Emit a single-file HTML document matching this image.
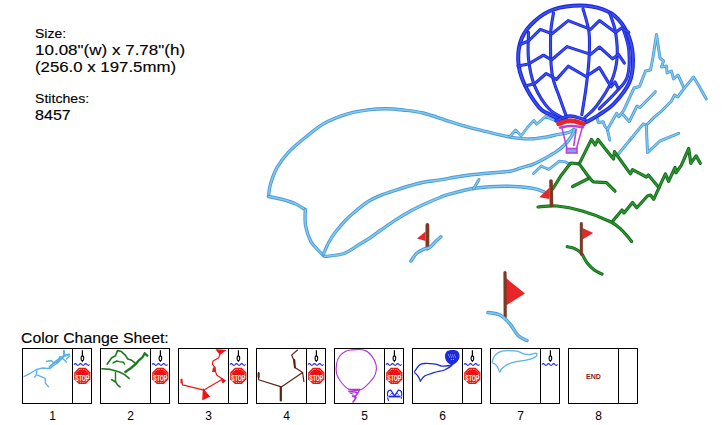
<!DOCTYPE html>
<html><head><meta charset="utf-8"><style>
html,body{margin:0;padding:0;background:#fff;}
body{width:728px;height:425px;position:relative;overflow:hidden;font-family:"Liberation Sans",sans-serif;color:#000;}
.t{position:absolute;white-space:nowrap;line-height:1;-webkit-text-stroke:0.12px #000;}
svg{position:absolute;left:0;top:0;}
</style></head><body>
<div class="t" id="s1" style="left:35px;top:28px;font-size:12.5px;transform:scaleX(1.12);transform-origin:0 0;">Size:</div>
<div class="t" id="s2" style="left:35px;top:43px;font-size:14px;transform:scaleX(1.215);transform-origin:0 0;">10.08"(w) x 7.78"(h)</div>
<div class="t" id="s3" style="left:35px;top:59.5px;font-size:14px;transform:scaleX(1.2);transform-origin:0 0;">(256.0 x 197.5mm)</div>
<div class="t" id="s4" style="left:35px;top:93px;font-size:12.5px;transform:scaleX(1.13);transform-origin:0 0;">Stitches:</div>
<div class="t" id="s5" style="left:35px;top:107.7px;font-size:14.5px;transform:scaleX(1.11);transform-origin:0 0;">8457</div>
<div class="t" id="s6" style="left:21px;top:331px;font-size:14px;transform:scaleX(1.13);transform-origin:0 0;">Color Change Sheet:</div>
<svg width="728" height="425" viewBox="0 0 728 425">
<path d="M268.5,196 C268.8,194.1 269,189.3 270.4,184.6 C271.8,179.9 274,173 277,167.7 C280,162.4 283.5,157.6 288.2,152.6 C292.9,147.6 299.2,142.3 305.2,137.5 C311.2,132.7 317.2,127.4 324,123.5 C330.8,119.6 338.7,116.6 346,114.3 C353.3,112 361.4,110.8 368,109.9 C374.6,109 379.7,108.8 385.5,108.8 C391.3,108.8 396.8,109.3 403,110 C409.2,110.7 415.3,111.1 423,113 C430.7,114.9 441.6,119 449.2,121.3 C456.8,123.6 462.1,125.3 468.5,127.1 C474.9,128.9 481.3,130.3 487.7,131.9 C494.1,133.5 501.3,135.4 507,136.5 C512.7,137.6 517.4,138.2 521.8,138.6 C526.2,139 529.6,139 533.5,138.8 C537.4,138.6 541.4,137.9 545.3,137.2 C549.2,136.5 553.1,135.5 557,134.7 C560.9,133.9 566,133.3 568.8,132.4 C571.6,131.5 573.1,130 574,129.5" stroke="#4a9bd4" stroke-width="3.4" fill="none" stroke-linejoin="round" stroke-linecap="round"/>
<path d="M268.5,196 C268.8,194.1 269,189.3 270.4,184.6 C271.8,179.9 274,173 277,167.7 C280,162.4 283.5,157.6 288.2,152.6 C292.9,147.6 299.2,142.3 305.2,137.5 C311.2,132.7 317.2,127.4 324,123.5 C330.8,119.6 338.7,116.6 346,114.3 C353.3,112 361.4,110.8 368,109.9 C374.6,109 379.7,108.8 385.5,108.8 C391.3,108.8 396.8,109.3 403,110 C409.2,110.7 415.3,111.1 423,113 C430.7,114.9 441.6,119 449.2,121.3 C456.8,123.6 462.1,125.3 468.5,127.1 C474.9,128.9 481.3,130.3 487.7,131.9 C494.1,133.5 501.3,135.4 507,136.5 C512.7,137.6 517.4,138.2 521.8,138.6 C526.2,139 529.6,139 533.5,138.8 C537.4,138.6 541.4,137.9 545.3,137.2 C549.2,136.5 553.1,135.5 557,134.7 C560.9,133.9 566,133.3 568.8,132.4 C571.6,131.5 573.1,130 574,129.5" stroke="#86c9ee" stroke-width="1.53" fill="none" stroke-linejoin="round" stroke-linecap="round"/>
<path d="M268.5,196.5 C270.9,197 278.1,198.3 282.6,199.5 C287.1,200.7 291.6,202 295.3,203.7 C299,205.4 303.4,208.5 305,209.5" stroke="#4a9bd4" stroke-width="3.4" fill="none" stroke-linejoin="round" stroke-linecap="round"/>
<path d="M268.5,196.5 C270.9,197 278.1,198.3 282.6,199.5 C287.1,200.7 291.6,202 295.3,203.7 C299,205.4 303.4,208.5 305,209.5" stroke="#86c9ee" stroke-width="1.53" fill="none" stroke-linejoin="round" stroke-linecap="round"/>
<path d="M305.3,209.5 C305.3,212.1 304.6,220.1 305.5,225.3 C306.4,230.6 308.7,237.1 310.6,241 C312.5,244.9 314.9,246.6 317,249 C319.1,251.4 322.4,254.4 323.5,255.5" stroke="#4a9bd4" stroke-width="3.4" fill="none" stroke-linejoin="round" stroke-linecap="round"/>
<path d="M305.3,209.5 C305.3,212.1 304.6,220.1 305.5,225.3 C306.4,230.6 308.7,237.1 310.6,241 C312.5,244.9 314.9,246.6 317,249 C319.1,251.4 322.4,254.4 323.5,255.5" stroke="#86c9ee" stroke-width="1.53" fill="none" stroke-linejoin="round" stroke-linecap="round"/>
<path d="M323.5,254 C324.4,252 327,245.6 329,242 C331,238.4 332.5,236 335.3,232.3 C338.1,228.6 342.8,223.3 345.9,220 C349,216.7 350.3,215.6 354,212.5 C357.7,209.4 363.5,204.5 368.2,201.5 C372.9,198.5 377.7,196.6 382.4,194.7 C387.1,192.8 391.8,191.3 396.5,189.8 C401.2,188.3 405.9,186.8 410.6,185.5 C415.3,184.2 419.8,182.9 424.7,182 C429.6,181.1 433.7,180.9 440,179.9 C446.3,178.9 454.1,177.2 462.4,176 C470.7,174.8 482.1,173.8 490,173 C497.9,172.2 504.7,172.1 510,171.2 C515.3,170.3 517.9,168.8 521.8,167.6 C525.7,166.4 529.6,165.7 533.5,164.1 C537.4,162.5 541.4,160.3 545.3,158.2 C549.2,156 553.5,153.7 557,151.2 C560.5,148.7 563.9,145.8 566.5,143 C569.1,140.2 571.1,136.9 572.4,134.7 C573.6,132.4 573.7,130.4 574,129.5" stroke="#4a9bd4" stroke-width="3.4" fill="none" stroke-linejoin="round" stroke-linecap="round"/>
<path d="M323.5,254 C324.4,252 327,245.6 329,242 C331,238.4 332.5,236 335.3,232.3 C338.1,228.6 342.8,223.3 345.9,220 C349,216.7 350.3,215.6 354,212.5 C357.7,209.4 363.5,204.5 368.2,201.5 C372.9,198.5 377.7,196.6 382.4,194.7 C387.1,192.8 391.8,191.3 396.5,189.8 C401.2,188.3 405.9,186.8 410.6,185.5 C415.3,184.2 419.8,182.9 424.7,182 C429.6,181.1 433.7,180.9 440,179.9 C446.3,178.9 454.1,177.2 462.4,176 C470.7,174.8 482.1,173.8 490,173 C497.9,172.2 504.7,172.1 510,171.2 C515.3,170.3 517.9,168.8 521.8,167.6 C525.7,166.4 529.6,165.7 533.5,164.1 C537.4,162.5 541.4,160.3 545.3,158.2 C549.2,156 553.5,153.7 557,151.2 C560.5,148.7 563.9,145.8 566.5,143 C569.1,140.2 571.1,136.9 572.4,134.7 C573.6,132.4 573.7,130.4 574,129.5" stroke="#86c9ee" stroke-width="1.53" fill="none" stroke-linejoin="round" stroke-linecap="round"/>
<path d="M324.7,256.5 C327.9,256 338.1,255.6 344,253.5 C349.9,251.4 355.6,246.7 360,244 C364.4,241.3 367.1,239.8 370.6,237.5 C374.1,235.2 376.7,233 381,230 C385.3,227 391.6,222.6 396.5,219.4 C401.4,216.2 405.9,213.6 410.6,211 C415.3,208.4 419.8,206.2 424.7,204 C429.6,201.8 436,199.1 440,197.5 C444,195.9 442.7,195.9 448.7,194.3 C454.7,192.7 466.9,189.3 476,188 C485.1,186.7 494.4,186.2 503.6,186.2 C512.8,186.2 524.1,187 531,188 C537.9,189 542,191 544.8,192.2 C547.6,193.4 547.5,194.5 548,195" stroke="#4a9bd4" stroke-width="3.4" fill="none" stroke-linejoin="round" stroke-linecap="round"/>
<path d="M324.7,256.5 C327.9,256 338.1,255.6 344,253.5 C349.9,251.4 355.6,246.7 360,244 C364.4,241.3 367.1,239.8 370.6,237.5 C374.1,235.2 376.7,233 381,230 C385.3,227 391.6,222.6 396.5,219.4 C401.4,216.2 405.9,213.6 410.6,211 C415.3,208.4 419.8,206.2 424.7,204 C429.6,201.8 436,199.1 440,197.5 C444,195.9 442.7,195.9 448.7,194.3 C454.7,192.7 466.9,189.3 476,188 C485.1,186.7 494.4,186.2 503.6,186.2 C512.8,186.2 524.1,187 531,188 C537.9,189 542,191 544.8,192.2 C547.6,193.4 547.5,194.5 548,195" stroke="#86c9ee" stroke-width="1.53" fill="none" stroke-linejoin="round" stroke-linecap="round"/>
<path d="M479.0,179.5 L473.4,189.0" stroke="#4a9bd4" stroke-width="3" fill="none" stroke-linejoin="round" stroke-linecap="round"/>
<path d="M479.0,179.5 L473.4,189.0" stroke="#86c9ee" stroke-width="1.35" fill="none" stroke-linejoin="round" stroke-linecap="round"/>
<path d="M510.0,136.5 L515.6,130.0 L519.4,134.0 L521.0,136.0 L527.0,128.0 L533.8,120.4 L536.7,124.2 L545.4,116.5 L551.0,119.0 L556.0,121.0" stroke="#4a9bd4" stroke-width="2.8" fill="none" stroke-linejoin="round" stroke-linecap="round"/>
<path d="M510.0,136.5 L515.6,130.0 L519.4,134.0 L521.0,136.0 L527.0,128.0 L533.8,120.4 L536.7,124.2 L545.4,116.5 L551.0,119.0 L556.0,121.0" stroke="#86c9ee" stroke-width="1.26" fill="none" stroke-linejoin="round" stroke-linecap="round"/>
<path d="M533.5,173.5 L541.2,165.9 L544.0,167.5 L548.8,169.4 L559.4,161.2 L565.3,161.8 L568.2,163.5" stroke="#4a9bd4" stroke-width="2.8" fill="none" stroke-linejoin="round" stroke-linecap="round"/>
<path d="M533.5,173.5 L541.2,165.9 L544.0,167.5 L548.8,169.4 L559.4,161.2 L565.3,161.8 L568.2,163.5" stroke="#86c9ee" stroke-width="1.26" fill="none" stroke-linejoin="round" stroke-linecap="round"/>
<path d="M596.8,116.7 L598.2,122.4 L603.2,121.7 L604.6,125.9 L607.4,129.4 L609.7,140.0" stroke="#4a9bd4" stroke-width="3" fill="none" stroke-linejoin="round" stroke-linecap="round"/>
<path d="M596.8,116.7 L598.2,122.4 L603.2,121.7 L604.6,125.9 L607.4,129.4 L609.7,140.0" stroke="#86c9ee" stroke-width="1.35" fill="none" stroke-linejoin="round" stroke-linecap="round"/>
<path d="M607.4,129.4 L616.6,113.2 L618.7,116.7 L623.7,110.4 L634.0,88.0 L639.5,86.5 L642.0,80.0 L645.5,71.0 L650.5,70.0 L653.0,57.0 L656.5,34.5 L660.0,58.0 L663.5,61.0 L661.5,67.0 L666.5,66.0 L667.0,73.0 L671.5,71.0 L673.5,79.0 L678.0,75.0 L684.0,88.0" stroke="#4a9bd4" stroke-width="3" fill="none" stroke-linejoin="round" stroke-linecap="round"/>
<path d="M607.4,129.4 L616.6,113.2 L618.7,116.7 L623.7,110.4 L634.0,88.0 L639.5,86.5 L642.0,80.0 L645.5,71.0 L650.5,70.0 L653.0,57.0 L656.5,34.5 L660.0,58.0 L663.5,61.0 L661.5,67.0 L666.5,66.0 L667.0,73.0 L671.5,71.0 L673.5,79.0 L678.0,75.0 L684.0,88.0" stroke="#86c9ee" stroke-width="1.35" fill="none" stroke-linejoin="round" stroke-linecap="round"/>
<path d="M623.0,114.6 L629.3,121.7 L637.0,106.0 L640.0,107.5 L655.4,91.7" stroke="#4a9bd4" stroke-width="3" fill="none" stroke-linejoin="round" stroke-linecap="round"/>
<path d="M623.0,114.6 L629.3,121.7 L637.0,106.0 L640.0,107.5 L655.4,91.7" stroke="#86c9ee" stroke-width="1.35" fill="none" stroke-linejoin="round" stroke-linecap="round"/>
<path d="M630.0,140.0 L643.4,123.8 L646.3,125.2 L654.0,117.4 L661.8,110.8 L671.3,101.3 L674.5,95.0 L677.7,97.0 L684.0,88.6 L693.6,77.0 L699.0,86.0 L706.3,99.0" stroke="#4a9bd4" stroke-width="3" fill="none" stroke-linejoin="round" stroke-linecap="round"/>
<path d="M630.0,140.0 L643.4,123.8 L646.3,125.2 L654.0,117.4 L661.8,110.8 L671.3,101.3 L674.5,95.0 L677.7,97.0 L684.0,88.6 L693.6,77.0 L699.0,86.0 L706.3,99.0" stroke="#86c9ee" stroke-width="1.35" fill="none" stroke-linejoin="round" stroke-linecap="round"/>
<path d="M617.5,155.0 L630.0,140.0" stroke="#4a9bd4" stroke-width="3" fill="none" stroke-linejoin="round" stroke-linecap="round"/>
<path d="M617.5,155.0 L630.0,140.0" stroke="#86c9ee" stroke-width="1.35" fill="none" stroke-linejoin="round" stroke-linecap="round"/>
<path d="M646.3,125.2 L647.5,152.6 L660.0,141.0 L678.7,133.4" stroke="#4a9bd4" stroke-width="3" fill="none" stroke-linejoin="round" stroke-linecap="round"/>
<path d="M646.3,125.2 L647.5,152.6 L660.0,141.0 L678.7,133.4" stroke="#86c9ee" stroke-width="1.35" fill="none" stroke-linejoin="round" stroke-linecap="round"/>
<path d="M561.5,120.4 C559.4,119.3 552.8,116.2 549,114 C545.2,111.8 543.1,112.5 538.9,107.3 C534.7,102.1 527.2,90.6 523.8,82.8 C520.3,75 518.5,67.7 518.2,60.2 C517.9,52.7 519.2,44.2 522,37.6 C524.8,31 529.8,25.4 535.1,20.7 C540.4,16 546.4,11.9 553.9,9.4 C561.4,6.9 572.1,5.6 580.3,5.6 C588.5,5.6 596.6,7.2 602.9,9.4 C609.2,11.6 613.5,14.1 617.9,18.8 C622.3,23.5 626.7,30.7 629.2,37.6 C631.7,44.5 633,52.7 633,60.2 C633,67.7 632.4,75.6 629.2,82.8 C626.1,90 619.1,98.2 614.1,103.5 C609.1,108.8 603.7,111.7 599,114.8 C594.3,117.9 588.1,121 585.9,122.3" stroke="#1c26d6" stroke-width="4" fill="none" stroke-linejoin="round" stroke-linecap="round"/>
<path d="M561.5,120.4 C559.4,119.3 552.8,116.2 549,114 C545.2,111.8 543.1,112.5 538.9,107.3 C534.7,102.1 527.2,90.6 523.8,82.8 C520.3,75 518.5,67.7 518.2,60.2 C517.9,52.7 519.2,44.2 522,37.6 C524.8,31 529.8,25.4 535.1,20.7 C540.4,16 546.4,11.9 553.9,9.4 C561.4,6.9 572.1,5.6 580.3,5.6 C588.5,5.6 596.6,7.2 602.9,9.4 C609.2,11.6 613.5,14.1 617.9,18.8 C622.3,23.5 626.7,30.7 629.2,37.6 C631.7,44.5 633,52.7 633,60.2 C633,67.7 632.4,75.6 629.2,82.8 C626.1,90 619.1,98.2 614.1,103.5 C609.1,108.8 603.7,111.7 599,114.8 C594.3,117.9 588.1,121 585.9,122.3" stroke="#3a50f4" stroke-width="1.80" fill="none" stroke-linejoin="round" stroke-linecap="round"/>
<path d="M528.5,32.4 C528.5,36.8 527.5,50 528.5,58.8 C529.5,67.6 531,77 534.4,85.3 C537.8,93.6 543.9,103.2 549,108.8 C554.1,114.4 562.6,117.3 565.3,119" stroke="#1c26d6" stroke-width="3.1" fill="none" stroke-linejoin="round" stroke-linecap="round"/>
<path d="M528.5,32.4 C528.5,36.8 527.5,50 528.5,58.8 C529.5,67.6 531,77 534.4,85.3 C537.8,93.6 543.9,103.2 549,108.8 C554.1,114.4 562.6,117.3 565.3,119" stroke="#3a50f4" stroke-width="1.40" fill="none" stroke-linejoin="round" stroke-linecap="round"/>
<path d="M553.5,13 C553,16.7 550.9,24.9 550.6,35 C550.4,45.1 550.5,63.2 552,73.5 C553.5,83.8 556.9,89.7 559.4,97 C561.9,104.3 565.6,114.2 566.8,117.6" stroke="#1c26d6" stroke-width="3.1" fill="none" stroke-linejoin="round" stroke-linecap="round"/>
<path d="M553.5,13 C553,16.7 550.9,24.9 550.6,35 C550.4,45.1 550.5,63.2 552,73.5 C553.5,83.8 556.9,89.7 559.4,97 C561.9,104.3 565.6,114.2 566.8,117.6" stroke="#3a50f4" stroke-width="1.40" fill="none" stroke-linejoin="round" stroke-linecap="round"/>
<path d="M583,8.8 C584,12.7 588,24.1 589,32.4 C590,40.7 589.5,49.5 589,58.8 C588.5,68.1 587.2,78.7 586,88 C584.8,97.3 582.5,110.2 581.8,114.7" stroke="#1c26d6" stroke-width="3.1" fill="none" stroke-linejoin="round" stroke-linecap="round"/>
<path d="M583,8.8 C584,12.7 588,24.1 589,32.4 C590,40.7 589.5,49.5 589,58.8 C588.5,68.1 587.2,78.7 586,88 C584.8,97.3 582.5,110.2 581.8,114.7" stroke="#3a50f4" stroke-width="1.40" fill="none" stroke-linejoin="round" stroke-linecap="round"/>
<path d="M609.7,13.2 C610.7,16.4 614.4,24.8 615.6,32.4 C616.8,40 617.8,50.5 617,58.8 C616.2,67.1 614.4,74.5 611,82.4 C607.6,90.3 600.9,100.1 596.5,106 C592.1,111.9 586.7,115.7 584.7,117.6" stroke="#1c26d6" stroke-width="3.1" fill="none" stroke-linejoin="round" stroke-linecap="round"/>
<path d="M609.7,13.2 C610.7,16.4 614.4,24.8 615.6,32.4 C616.8,40 617.8,50.5 617,58.8 C616.2,67.1 614.4,74.5 611,82.4 C607.6,90.3 600.9,100.1 596.5,106 C592.1,111.9 586.7,115.7 584.7,117.6" stroke="#3a50f4" stroke-width="1.40" fill="none" stroke-linejoin="round" stroke-linecap="round"/>
<path d="M623,28 C624,31.7 628.1,41.9 628.8,50 C629.5,58.1 629.4,69.7 627.4,76.5 C625.4,83.3 621.7,85.6 617,91 C612.3,96.4 602.3,105.8 599.4,108.8" stroke="#1c26d6" stroke-width="3.1" fill="none" stroke-linejoin="round" stroke-linecap="round"/>
<path d="M623,28 C624,31.7 628.1,41.9 628.8,50 C629.5,58.1 629.4,69.7 627.4,76.5 C625.4,83.3 621.7,85.6 617,91 C612.3,96.4 602.3,105.8 599.4,108.8" stroke="#3a50f4" stroke-width="1.40" fill="none" stroke-linejoin="round" stroke-linecap="round"/>
<path d="M520.0,44.5 L528.5,41.0 L540.3,29.4 L552.0,33.8 L568.2,20.6 L590.6,29.4 L599.4,20.6 L615.6,32.4 L621.5,28.0 L628.8,32.4" stroke="#1c26d6" stroke-width="3.1" fill="none" stroke-linejoin="round" stroke-linecap="round"/>
<path d="M520.0,44.5 L528.5,41.0 L540.3,29.4 L552.0,33.8 L568.2,20.6 L590.6,29.4 L599.4,20.6 L615.6,32.4 L621.5,28.0 L628.8,32.4" stroke="#3a50f4" stroke-width="1.40" fill="none" stroke-linejoin="round" stroke-linecap="round"/>
<path d="M518.0,66.0 L528.5,64.0 L543.5,55.2 L551.5,60.0 L567.0,46.6 L590.6,54.4 L599.4,47.0 L612.6,58.8 L618.5,54.4 L624.4,63.2" stroke="#1c26d6" stroke-width="3.1" fill="none" stroke-linejoin="round" stroke-linecap="round"/>
<path d="M518.0,66.0 L528.5,64.0 L543.5,55.2 L551.5,60.0 L567.0,46.6 L590.6,54.4 L599.4,47.0 L612.6,58.8 L618.5,54.4 L624.4,63.2" stroke="#3a50f4" stroke-width="1.40" fill="none" stroke-linejoin="round" stroke-linecap="round"/>
<path d="M525.0,86.0 L534.4,83.8 L546.2,73.5 L556.5,79.4 L568.2,66.2 L586.0,76.5 L599.4,67.6 L611.0,86.8 L615.0,82.0 L618.0,88.0" stroke="#1c26d6" stroke-width="3.1" fill="none" stroke-linejoin="round" stroke-linecap="round"/>
<path d="M525.0,86.0 L534.4,83.8 L546.2,73.5 L556.5,79.4 L568.2,66.2 L586.0,76.5 L599.4,67.6 L611.0,86.8 L615.0,82.0 L618.0,88.0" stroke="#3a50f4" stroke-width="1.40" fill="none" stroke-linejoin="round" stroke-linecap="round"/>
<path d="M556,120.8 C558.3,120 565.2,116.2 570,116 C574.8,115.8 582.5,119.2 585,119.8" stroke="#1c26d6" stroke-width="3.5" fill="none" stroke-linejoin="round" stroke-linecap="round"/>
<path d="M556,120.8 C558.3,120 565.2,116.2 570,116 C574.8,115.8 582.5,119.2 585,119.8" stroke="#3a50f4" stroke-width="1.57" fill="none" stroke-linejoin="round" stroke-linecap="round"/>
<path d="M558.5,123.8 C560.4,123.3 565.8,120.6 570,120.6 C574.2,120.6 581.2,123.3 583.5,123.8" stroke="#e8262a" stroke-width="4.6" fill="none" stroke-linejoin="round" stroke-linecap="round"/>
<path d="M560,127.6 C561.8,127.3 567.2,126.1 571,126 C574.8,125.9 581,127 583,127.2" stroke="#c03ee0" stroke-width="2.6" fill="none" stroke-linejoin="round" stroke-linecap="round"/>
<path d="M562.0,128.5 L567.0,148.5" stroke="#c03ee0" stroke-width="1.5" fill="none" stroke-linejoin="round" stroke-linecap="round"/>
<path d="M582.0,128.5 L576.5,148.5" stroke="#c03ee0" stroke-width="1.5" fill="none" stroke-linejoin="round" stroke-linecap="round"/>
<path d="M576.2,129.4 L573.8,145.4" stroke="#c03ee0" stroke-width="1.6" fill="none" stroke-linejoin="round" stroke-linecap="round"/>
<rect x="566.5" y="148.5" width="10.5" height="4.5" fill="#62b4e6" stroke="#c03ee0" stroke-width="1.6"/>
<path d="M552.7,189.0 L561.3,175.2 L570.7,163.0 L579.2,163.9 L583.0,156.4 L591.4,139.4 L595.2,145.0 L598.0,139.4 L605.0,148.5 L613.5,159.0 L614.5,151.7 L630.4,173.9 L632.5,169.7 L646.3,177.0 L648.4,175.0 L659.0,187.7" stroke="#11661a" stroke-width="3.2" fill="none" stroke-linejoin="round" stroke-linecap="round"/>
<path d="M552.7,189.0 L561.3,175.2 L570.7,163.0 L579.2,163.9 L583.0,156.4 L591.4,139.4 L595.2,145.0 L598.0,139.4 L605.0,148.5 L613.5,159.0 L614.5,151.7 L630.4,173.9 L632.5,169.7 L646.3,177.0 L648.4,175.0 L659.0,187.7" stroke="#2b9a2e" stroke-width="1.44" fill="none" stroke-linejoin="round" stroke-linecap="round"/>
<path d="M612.4,221.6 L622.0,210.0 L624.0,213.0 L632.5,202.5 L636.8,207.8 L647.4,196.0 L650.5,195.0 L653.7,199.3 L659.0,187.7 L665.4,173.9 L668.6,181.3 L675.0,167.5 L676.0,172.8 L681.3,165.4 L688.7,148.5 L690.8,163.3 L696.1,155.9 L700.3,163.3" stroke="#11661a" stroke-width="3.2" fill="none" stroke-linejoin="round" stroke-linecap="round"/>
<path d="M612.4,221.6 L622.0,210.0 L624.0,213.0 L632.5,202.5 L636.8,207.8 L647.4,196.0 L650.5,195.0 L653.7,199.3 L659.0,187.7 L665.4,173.9 L668.6,181.3 L675.0,167.5 L676.0,172.8 L681.3,165.4 L688.7,148.5 L690.8,163.3 L696.1,155.9 L700.3,163.3" stroke="#2b9a2e" stroke-width="1.44" fill="none" stroke-linejoin="round" stroke-linecap="round"/>
<path d="M579.2,163.9 L589.5,178.0 L572.6,186.5" stroke="#11661a" stroke-width="3.2" fill="none" stroke-linejoin="round" stroke-linecap="round"/>
<path d="M579.2,163.9 L589.5,178.0 L572.6,186.5" stroke="#2b9a2e" stroke-width="1.44" fill="none" stroke-linejoin="round" stroke-linecap="round"/>
<path d="M589.5,178.0 L593.3,181.8 L606.5,182.7 L615.0,191.2" stroke="#11661a" stroke-width="3.2" fill="none" stroke-linejoin="round" stroke-linecap="round"/>
<path d="M589.5,178.0 L593.3,181.8 L606.5,182.7 L615.0,191.2" stroke="#2b9a2e" stroke-width="1.44" fill="none" stroke-linejoin="round" stroke-linecap="round"/>
<path d="M538,207 C541.2,206.8 549.6,205.3 557,206 C564.4,206.7 573.4,208.4 582.3,211 C591.2,213.6 603.9,218.5 610.5,221.7 C617.1,224.9 618.3,226.9 621.8,230.2 C625.3,233.5 630.1,239.6 631.7,241.5" stroke="#11661a" stroke-width="3.2" fill="none" stroke-linejoin="round" stroke-linecap="round"/>
<path d="M538,207 C541.2,206.8 549.6,205.3 557,206 C564.4,206.7 573.4,208.4 582.3,211 C591.2,213.6 603.9,218.5 610.5,221.7 C617.1,224.9 618.3,226.9 621.8,230.2 C625.3,233.5 630.1,239.6 631.7,241.5" stroke="#2b9a2e" stroke-width="1.44" fill="none" stroke-linejoin="round" stroke-linecap="round"/>
<path d="M567.3,246.7 C568.5,247 572.4,247.5 574.8,248.6 C577.1,249.7 579.4,251 581.4,253.3 C583.4,255.7 584.8,259.9 587,262.7 C589.2,265.5 592.1,268.4 594.6,270.3 C597.1,272.2 600.8,273.4 602,274" stroke="#11661a" stroke-width="3.2" fill="none" stroke-linejoin="round" stroke-linecap="round"/>
<path d="M567.3,246.7 C568.5,247 572.4,247.5 574.8,248.6 C577.1,249.7 579.4,251 581.4,253.3 C583.4,255.7 584.8,259.9 587,262.7 C589.2,265.5 592.1,268.4 594.6,270.3 C597.1,272.2 600.8,273.4 602,274" stroke="#2b9a2e" stroke-width="1.44" fill="none" stroke-linejoin="round" stroke-linecap="round"/>
<path d="M539.3,197.3 L549.5,187.4 L549.5,199.0Z" fill="#e8262a"/>
<path d="M551.0,181.0 L551.5,205.5" stroke="#7b3a24" stroke-width="3.6" fill="none" stroke-linejoin="round" stroke-linecap="round"/>
<path d="M582.5,228.0 L593.2,233.0 L582.5,239.4Z" fill="#e8262a"/>
<path d="M581.3,223.5 L581.4,254.5" stroke="#7b3a24" stroke-width="3" fill="none" stroke-linejoin="round" stroke-linecap="round"/>
<path d="M417.0,238.5 L425.5,231.5 L425.5,241.0Z" fill="#e8262a"/>
<path d="M427.4,225.0 L427.4,248.5" stroke="#7b3a24" stroke-width="3.8" fill="none" stroke-linejoin="round" stroke-linecap="round"/>
<path d="M506.0,278.0 L525.0,293.5 L506.0,305.5Z" fill="#e8262a"/>
<path d="M505.0,272.5 L505.2,317.0" stroke="#7b3a24" stroke-width="3.2" fill="none" stroke-linejoin="round" stroke-linecap="round"/>
<path d="M410.9,261 C411.9,259.7 414.6,255.3 416.8,253.3 C419,251.3 421.7,250.2 423.8,249.2 C425.9,248.2 427.7,248.8 429.7,247.5 C431.7,246.2 433.7,243.3 435.6,241.5 C437.5,239.7 440,237.6 440.9,236.8" stroke="#4a9bd4" stroke-width="3.5" fill="none" stroke-linejoin="round" stroke-linecap="round"/>
<path d="M410.9,261 C411.9,259.7 414.6,255.3 416.8,253.3 C419,251.3 421.7,250.2 423.8,249.2 C425.9,248.2 427.7,248.8 429.7,247.5 C431.7,246.2 433.7,243.3 435.6,241.5 C437.5,239.7 440,237.6 440.9,236.8" stroke="#86c9ee" stroke-width="1.57" fill="none" stroke-linejoin="round" stroke-linecap="round"/>
<path d="M488,312.5 C490,312.9 496.3,313.1 500,315 C503.7,316.9 507,320.6 510,324 C513,327.4 515.2,332.8 518,335.5 C520.8,338.2 525.5,339.7 527,340.5" stroke="#4a9bd4" stroke-width="3.5" fill="none" stroke-linejoin="round" stroke-linecap="round"/>
<path d="M488,312.5 C490,312.9 496.3,313.1 500,315 C503.7,316.9 507,320.6 510,324 C513,327.4 515.2,332.8 518,335.5 C520.8,338.2 525.5,339.7 527,340.5" stroke="#86c9ee" stroke-width="1.57" fill="none" stroke-linejoin="round" stroke-linecap="round"/>
<rect x="22.5" y="348.5" width="69" height="55" fill="none" stroke="#000" stroke-width="1"/>
<path d="M72.5,348.5 V403.5" stroke="#000" stroke-width="1"/>
<rect x="100.5" y="348.5" width="69" height="55" fill="none" stroke="#000" stroke-width="1"/>
<path d="M150.5,348.5 V403.5" stroke="#000" stroke-width="1"/>
<rect x="178.5" y="348.5" width="69" height="55" fill="none" stroke="#000" stroke-width="1"/>
<path d="M228.5,348.5 V403.5" stroke="#000" stroke-width="1"/>
<rect x="256.5" y="348.5" width="69" height="55" fill="none" stroke="#000" stroke-width="1"/>
<path d="M306.5,348.5 V403.5" stroke="#000" stroke-width="1"/>
<rect x="334.5" y="348.5" width="69" height="55" fill="none" stroke="#000" stroke-width="1"/>
<path d="M384.5,348.5 V403.5" stroke="#000" stroke-width="1"/>
<rect x="412.5" y="348.5" width="69" height="55" fill="none" stroke="#000" stroke-width="1"/>
<path d="M462.5,348.5 V403.5" stroke="#000" stroke-width="1"/>
<rect x="490.5" y="348.5" width="69" height="55" fill="none" stroke="#000" stroke-width="1"/>
<path d="M540.5,348.5 V403.5" stroke="#000" stroke-width="1"/>
<rect x="568.5" y="348.5" width="69" height="55" fill="none" stroke="#000" stroke-width="1"/>
<path d="M618.5,348.5 V403.5" stroke="#000" stroke-width="1"/>
<path d="M24.0,376.5 L27.8,374.6 L33.7,371.3 L36.9,369.4 L42.7,368.0 L49.8,368.7 L53.0,366.0 L58.3,362.2 L62.2,358.4 L64.7,354.5 L64.0,350.6" stroke="#5ab2e6" stroke-width="1.3" fill="none" stroke-linejoin="round" stroke-linecap="round"/>
<path d="M36.9,370.7 L36.2,375.2 L34.5,377.0" stroke="#5ab2e6" stroke-width="1.3" fill="none" stroke-linejoin="round" stroke-linecap="round"/>
<path d="M37.5,375.2 L45.3,378.4 L45.3,383.0 L48.6,386.9" stroke="#5ab2e6" stroke-width="1.3" fill="none" stroke-linejoin="round" stroke-linecap="round"/>
<path d="M49.5,367.0 L54.0,363.0 L58.0,360.0 L64.0,356.0 L69.0,354.5" stroke="#5ab2e6" stroke-width="2.2" fill="none" stroke-linejoin="round" stroke-linecap="round"/>
<path d="M63.8,350.5 L63.8,356.0" stroke="#5ab2e6" stroke-width="1.6" fill="none" stroke-linejoin="round" stroke-linecap="round"/>
<path d="M46.5,361.5 L51.0,360.5 L53.5,362.5" stroke="#5ab2e6" stroke-width="1.6" fill="none" stroke-linejoin="round" stroke-linecap="round"/>
<path d="M61.0,357.0 L66.5,362.0" stroke="#5ab2e6" stroke-width="1.6" fill="none" stroke-linejoin="round" stroke-linecap="round"/>
<path d="M57.0,363.0 L60.0,357.0" stroke="#5ab2e6" stroke-width="2" fill="none" stroke-linejoin="round" stroke-linecap="round"/>
<path d="M69.5,356.0 L66.5,359.0" stroke="#5ab2e6" stroke-width="1.5" fill="none" stroke-linejoin="round" stroke-linecap="round"/>
<path d="M101.9,368.7 L110.4,369.4 L119.4,372.0 L124.6,374.6 L129.1,378.4" stroke="#1a7a1a" stroke-width="1.6" fill="none" stroke-linejoin="round" stroke-linecap="round"/>
<path d="M107.1,364.2 L111.7,357.7 L115.5,355.8 L117.5,350.6 L120.7,351.2 L125.3,355.1 L127.8,359.0 L131.7,360.3 L135.0,362.9" stroke="#1a7a1a" stroke-width="1.6" fill="none" stroke-linejoin="round" stroke-linecap="round"/>
<path d="M113.0,362.9 L116.8,361.0 L119.4,361.6 L123.3,362.2 L124.6,364.2" stroke="#1a7a1a" stroke-width="1.4" fill="none" stroke-linejoin="round" stroke-linecap="round"/>
<path d="M125.3,372.0 L131.0,368.0 L135.6,364.2 L138.9,360.3 L142.7,357.0 L144.7,353.2 L147.3,355.8" stroke="#1a7a1a" stroke-width="2.3" fill="none" stroke-linejoin="round" stroke-linecap="round"/>
<path d="M111.7,379.7 L115.5,381.7 L117.5,384.9 L120.0,386.9" stroke="#1a7a1a" stroke-width="1.6" fill="none" stroke-linejoin="round" stroke-linecap="round"/>
<path d="M115.5,372.6 L115.5,382.3" stroke="#1a7a1a" stroke-width="1.4" fill="none" stroke-linejoin="round" stroke-linecap="round"/>
<path d="M220.1,353.2 L218.8,357.7 L213.0,361.0 L212.3,364.2 L214.9,367.4 L215.6,372.0 L216.9,375.2 L222.7,379.0 L203.9,390.1 L182.5,384.9 L181.5,380.0" stroke="#f01414" stroke-width="1.15" fill="none" stroke-linejoin="round" stroke-linecap="round"/>
<path d="M217,350 L224.5,350.5 L220,354Z" fill="#f01414" stroke="#f01414" stroke-width="1.5"/>
<path d="M213,367.5 L215.5,367 L215.5,372 L212,372Z" fill="#f01414"/>
<path d="M221,378.5 L225.5,380.5 L223,383Z" fill="#f01414" stroke="#f01414" stroke-width="1"/>
<path d="M203.5,390 L203,399 L209,396.5Z" fill="#f01414" stroke="#f01414" stroke-width="1.5"/>
<rect x="180.5" y="378.8" width="2" height="4.5" fill="#f01414"/>
<path d="M297.5,350.0 L291.6,355.1 L293.6,359.7 L294.9,367.4 L302.6,372.6 L281.3,386.9 L258.6,379.7 L258.6,373.3" stroke="#5e200e" stroke-width="1.15" fill="none" stroke-linejoin="round" stroke-linecap="round"/>
<path d="M302.6,372.6 L303.9,381.7" stroke="#5e200e" stroke-width="1.15" fill="none" stroke-linejoin="round" stroke-linecap="round"/>
<path d="M294.3,360.0 L294.9,367.4" stroke="#5e200e" stroke-width="2" fill="none" stroke-linejoin="round" stroke-linecap="round"/>
<path d="M258.6,373.0 L258.6,377.0" stroke="#5e200e" stroke-width="2" fill="none" stroke-linejoin="round" stroke-linecap="round"/>
<path d="M280.8,387.0 L280.8,400.5" stroke="#5e200e" stroke-width="2.2" fill="none" stroke-linejoin="round" stroke-linecap="round"/>
<path d="M350.8,350 C353.8,349.8 360.3,349 363.8,350 C367.3,351 369.6,353.3 371.6,355.8 C373.7,358.3 375.5,361.8 376.1,364.8 C376.8,367.8 376.5,371.1 375.5,373.9 C374.5,376.7 372.7,379.1 370.3,381.7 C367.9,384.3 364.7,388.2 361.2,389.5 C357.7,390.8 352.7,390.6 349.5,389.5 C346.3,388.4 343.9,385.6 341.8,383 C339.7,380.4 337.5,377.1 336.6,373.9 C335.7,370.6 336.1,366.5 336.6,363.5 C337.1,360.5 338.3,357.9 339.8,355.8 C341.3,353.8 343.9,352.2 345.7,351.2 C347.5,350.2 347.8,350.2 350.8,350Z" stroke="#b030d8" stroke-width="1.1" fill="none" stroke-linejoin="round" stroke-linecap="round"/>
<path d="M348.5,389.5 L360.0,389.5 L358.5,392.0" stroke="#b030d8" stroke-width="1.3" fill="none" stroke-linejoin="round" stroke-linecap="round"/>
<path d="M349.0,391.5 L355.0,392.0 L358.0,393.0 L355.5,396.0 L352.5,396.0 L356.0,397.5 L354.5,400.0 L353.0,402.0" stroke="#b030d8" stroke-width="1.6" fill="none" stroke-linejoin="round" stroke-linecap="round"/>
<path d="M350.0,393.0 L353.0,394.0" stroke="#b030d8" stroke-width="1.2" fill="none" stroke-linejoin="round" stroke-linecap="round"/>
<path d="M414.6,371.3 C415.5,370.2 418.1,366.1 419.8,364.8 C421.5,363.5 422.4,363.6 425,363.5 C427.6,363.4 432.5,363.8 435.3,364.2 C438.1,364.6 439.4,365.9 441.8,366.1 C444.2,366.3 447.9,365.8 449.6,365.5 C451.3,365.2 451.6,364.7 452,364.5" stroke="#1c2bd8" stroke-width="1.3" fill="none" stroke-linejoin="round" stroke-linecap="round"/>
<path d="M414.6,372.6 C415.1,373.1 416.8,374.4 417.8,375.8 C418.8,377.2 420,380.1 420.4,381" stroke="#1c2bd8" stroke-width="1.3" fill="none" stroke-linejoin="round" stroke-linecap="round"/>
<path d="M420.4,381 C421.2,380.1 422.7,377.2 425,375.8 C427.3,374.4 430.8,373.6 434,372.6 C437.2,371.6 441.6,371.1 444.4,370 C447.2,368.9 449.6,367 450.9,366.1 C452.2,365.2 451.8,364.8 452,364.5" stroke="#1c2bd8" stroke-width="1.3" fill="none" stroke-linejoin="round" stroke-linecap="round"/>
<path d="M452,350 C457,349.5 460,352 459.5,357 C459,361 455,364 452,365.5 C449,364 445,361 445,356.5 C445,352 447.5,350 452,350Z" fill="#1c2bd8"/>
<path d="M448,355 h8 M449,357 h7 M451,359.5 h3" stroke="#fff" stroke-width="0.7" stroke-dasharray="1 1"/>
<path d="M492.6,360.3 C493,359 493.7,356.6 495.2,355.1 C496.7,353.6 499.3,351.9 501.7,351.2 C504.1,350.4 506.8,350.6 509.4,350.6 C512,350.6 514.8,350.7 517.2,351.2 C519.6,351.7 521.5,353.2 523.7,353.8 C525.9,354.4 528.2,354.6 530.2,354.5 C532.2,354.4 534.9,353 536,353.2 C537.1,353.4 537.1,354.9 536.6,355.8 C536.1,356.7 534.6,357.6 532.7,358.4 C530.8,359.1 527.8,359.8 525,360.3 C522.2,360.8 518.9,360.9 515.9,361.6 C512.9,362.4 509.2,363.6 506.8,364.8 C504.4,366 502.9,367.5 501.7,368.7 C500.5,369.9 500.3,372.2 499.7,372 C499.1,371.8 498.6,368.7 497.8,367.4 C497.1,366.1 496.1,364.9 495.2,364.2 C494.3,363.4 493,363.5 492.6,362.9 C492.2,362.2 492.2,361.6 492.6,360.3Z" stroke="#5ab2e6" stroke-width="1.3" fill="none" stroke-linejoin="round" stroke-linecap="round"/>
<path d="M82.4,350.3 V361.8" stroke="#000" stroke-width="1.2"/>
<ellipse cx="82.4" cy="358.3" rx="1.3" ry="2.4" fill="#fff" stroke="#000" stroke-width="1.1"/>
<path d="M74.0,364.5 q1.3,-1.8 2.6,0 q1.3,1.8 2.6,0 q1.3,-1.8 2.6,0 q1.3,1.8 2.6,0 q1.3,-1.8 2.6,0 q1.3,1.8 2.6,0" stroke="#1a22f0" stroke-width="1.1" fill="none"/>
<path d="M78.9,367.8 L85.7,367.8 L90.4,372.5 L90.4,379.3 L85.7,384.0 L78.9,384.0 L74.2,379.3 L74.2,372.5Z" fill="#ee1111"/>
<path d="M79.6,369.4 L85.0,369.4 L88.8,373.2 L88.8,378.6 L85.0,382.4 L79.6,382.4 L75.8,378.6 L75.8,373.2Z" fill="none" stroke="#fff" stroke-width="0.8" stroke-dasharray="0.8 0.9"/>
<text x="82.3" y="380.9" font-family="Liberation Sans" font-weight="bold" font-size="8.6" fill="#fff" text-anchor="middle" textLength="14" lengthAdjust="spacingAndGlyphs">STOP</text>
<path d="M160.4,350.3 V361.8" stroke="#000" stroke-width="1.2"/>
<ellipse cx="160.4" cy="358.3" rx="1.3" ry="2.4" fill="#fff" stroke="#000" stroke-width="1.1"/>
<path d="M152.0,364.5 q1.3,-1.8 2.6,0 q1.3,1.8 2.6,0 q1.3,-1.8 2.6,0 q1.3,1.8 2.6,0 q1.3,-1.8 2.6,0 q1.3,1.8 2.6,0" stroke="#1a22f0" stroke-width="1.1" fill="none"/>
<path d="M156.9,367.8 L163.7,367.8 L168.4,372.5 L168.4,379.3 L163.7,384.0 L156.9,384.0 L152.2,379.3 L152.2,372.5Z" fill="#ee1111"/>
<path d="M157.6,369.4 L163.0,369.4 L166.8,373.2 L166.8,378.6 L163.0,382.4 L157.6,382.4 L153.8,378.6 L153.8,373.2Z" fill="none" stroke="#fff" stroke-width="0.8" stroke-dasharray="0.8 0.9"/>
<text x="160.3" y="380.9" font-family="Liberation Sans" font-weight="bold" font-size="8.6" fill="#fff" text-anchor="middle" textLength="14" lengthAdjust="spacingAndGlyphs">STOP</text>
<path d="M238.4,350.3 V361.8" stroke="#000" stroke-width="1.2"/>
<ellipse cx="238.4" cy="358.3" rx="1.3" ry="2.4" fill="#fff" stroke="#000" stroke-width="1.1"/>
<path d="M230.0,364.5 q1.3,-1.8 2.6,0 q1.3,1.8 2.6,0 q1.3,-1.8 2.6,0 q1.3,1.8 2.6,0 q1.3,-1.8 2.6,0 q1.3,1.8 2.6,0" stroke="#1a22f0" stroke-width="1.1" fill="none"/>
<path d="M234.9,367.8 L241.7,367.8 L246.4,372.5 L246.4,379.3 L241.7,384.0 L234.9,384.0 L230.2,379.3 L230.2,372.5Z" fill="#ee1111"/>
<path d="M235.6,369.4 L241.0,369.4 L244.8,373.2 L244.8,378.6 L241.0,382.4 L235.6,382.4 L231.8,378.6 L231.8,373.2Z" fill="none" stroke="#fff" stroke-width="0.8" stroke-dasharray="0.8 0.9"/>
<text x="238.3" y="380.9" font-family="Liberation Sans" font-weight="bold" font-size="8.6" fill="#fff" text-anchor="middle" textLength="14" lengthAdjust="spacingAndGlyphs">STOP</text>
<path d="M316.4,350.3 V361.8" stroke="#000" stroke-width="1.2"/>
<ellipse cx="316.4" cy="358.3" rx="1.3" ry="2.4" fill="#fff" stroke="#000" stroke-width="1.1"/>
<path d="M308.0,364.5 q1.3,-1.8 2.6,0 q1.3,1.8 2.6,0 q1.3,-1.8 2.6,0 q1.3,1.8 2.6,0 q1.3,-1.8 2.6,0 q1.3,1.8 2.6,0" stroke="#1a22f0" stroke-width="1.1" fill="none"/>
<path d="M312.9,367.8 L319.7,367.8 L324.4,372.5 L324.4,379.3 L319.7,384.0 L312.9,384.0 L308.2,379.3 L308.2,372.5Z" fill="#ee1111"/>
<path d="M313.6,369.4 L319.0,369.4 L322.8,373.2 L322.8,378.6 L319.0,382.4 L313.6,382.4 L309.8,378.6 L309.8,373.2Z" fill="none" stroke="#fff" stroke-width="0.8" stroke-dasharray="0.8 0.9"/>
<text x="316.3" y="380.9" font-family="Liberation Sans" font-weight="bold" font-size="8.6" fill="#fff" text-anchor="middle" textLength="14" lengthAdjust="spacingAndGlyphs">STOP</text>
<path d="M394.4,350.3 V361.8" stroke="#000" stroke-width="1.2"/>
<ellipse cx="394.4" cy="358.3" rx="1.3" ry="2.4" fill="#fff" stroke="#000" stroke-width="1.1"/>
<path d="M386.0,364.5 q1.3,-1.8 2.6,0 q1.3,1.8 2.6,0 q1.3,-1.8 2.6,0 q1.3,1.8 2.6,0 q1.3,-1.8 2.6,0 q1.3,1.8 2.6,0" stroke="#1a22f0" stroke-width="1.1" fill="none"/>
<path d="M390.9,367.8 L397.7,367.8 L402.4,372.5 L402.4,379.3 L397.7,384.0 L390.9,384.0 L386.2,379.3 L386.2,372.5Z" fill="#ee1111"/>
<path d="M391.6,369.4 L397.0,369.4 L400.8,373.2 L400.8,378.6 L397.0,382.4 L391.6,382.4 L387.8,378.6 L387.8,373.2Z" fill="none" stroke="#fff" stroke-width="0.8" stroke-dasharray="0.8 0.9"/>
<text x="394.3" y="380.9" font-family="Liberation Sans" font-weight="bold" font-size="8.6" fill="#fff" text-anchor="middle" textLength="14" lengthAdjust="spacingAndGlyphs">STOP</text>
<path d="M387.6,396.5 C386.8,392 388.2,390 390.8,390.2 L394.6,395.8 L398.4,390.2 C401.0,390 402.4,392 401.6,396.5" fill="none" stroke="#1a22f0" stroke-width="1.2" stroke-linejoin="round"/>
<path d="M388.5,396.5 L400.5,396.5" stroke="#1a22f0" stroke-width="1.8"/>
<path d="M390.5,394.5 C391.5,393 393.0,393 393.5,395 M398.5,394.5 C397.5,393 396.0,393 395.5,395" fill="none" stroke="#1a22f0" stroke-width="0.9"/>
<path d="M387.5,397.5 L388.6,400.8 M401.3,397 L401.3,398.8" stroke="#1a22f0" stroke-width="1.1" fill="none"/>
<path d="M472.4,350.3 V361.8" stroke="#000" stroke-width="1.2"/>
<ellipse cx="472.4" cy="358.3" rx="1.3" ry="2.4" fill="#fff" stroke="#000" stroke-width="1.1"/>
<path d="M464.0,364.5 q1.3,-1.8 2.6,0 q1.3,1.8 2.6,0 q1.3,-1.8 2.6,0 q1.3,1.8 2.6,0 q1.3,-1.8 2.6,0 q1.3,1.8 2.6,0" stroke="#1a22f0" stroke-width="1.1" fill="none"/>
<path d="M468.9,367.8 L475.7,367.8 L480.4,372.5 L480.4,379.3 L475.7,384.0 L468.9,384.0 L464.2,379.3 L464.2,372.5Z" fill="#ee1111"/>
<path d="M469.6,369.4 L475.0,369.4 L478.8,373.2 L478.8,378.6 L475.0,382.4 L469.6,382.4 L465.8,378.6 L465.8,373.2Z" fill="none" stroke="#fff" stroke-width="0.8" stroke-dasharray="0.8 0.9"/>
<text x="472.3" y="380.9" font-family="Liberation Sans" font-weight="bold" font-size="8.6" fill="#fff" text-anchor="middle" textLength="14" lengthAdjust="spacingAndGlyphs">STOP</text>
<path d="M550.4,350.3 V361.8" stroke="#000" stroke-width="1.2"/>
<ellipse cx="550.4" cy="358.3" rx="1.3" ry="2.4" fill="#fff" stroke="#000" stroke-width="1.1"/>
<path d="M542.0,364.5 q1.3,-1.8 2.6,0 q1.3,1.8 2.6,0 q1.3,-1.8 2.6,0 q1.3,1.8 2.6,0 q1.3,-1.8 2.6,0 q1.3,1.8 2.6,0" stroke="#1a22f0" stroke-width="1.1" fill="none"/>
<text x="593.5" y="379" font-family="Liberation Sans" font-weight="bold" font-size="7" fill="#8b1a1a" text-anchor="middle">END</text>
<text x="52.5" y="419.5" font-family="Liberation Sans" font-size="12" fill="#000" text-anchor="middle">1</text>
<text x="130.5" y="419.5" font-family="Liberation Sans" font-size="12" fill="#000" text-anchor="middle">2</text>
<text x="208.5" y="419.5" font-family="Liberation Sans" font-size="12" fill="#000" text-anchor="middle">3</text>
<text x="286.5" y="419.5" font-family="Liberation Sans" font-size="12" fill="#000" text-anchor="middle">4</text>
<text x="364.5" y="419.5" font-family="Liberation Sans" font-size="12" fill="#000" text-anchor="middle">5</text>
<text x="442.5" y="419.5" font-family="Liberation Sans" font-size="12" fill="#000" text-anchor="middle">6</text>
<text x="520.5" y="419.5" font-family="Liberation Sans" font-size="12" fill="#000" text-anchor="middle">7</text>
<text x="598.5" y="419.5" font-family="Liberation Sans" font-size="12" fill="#000" text-anchor="middle">8</text>
</svg>
</body></html>
